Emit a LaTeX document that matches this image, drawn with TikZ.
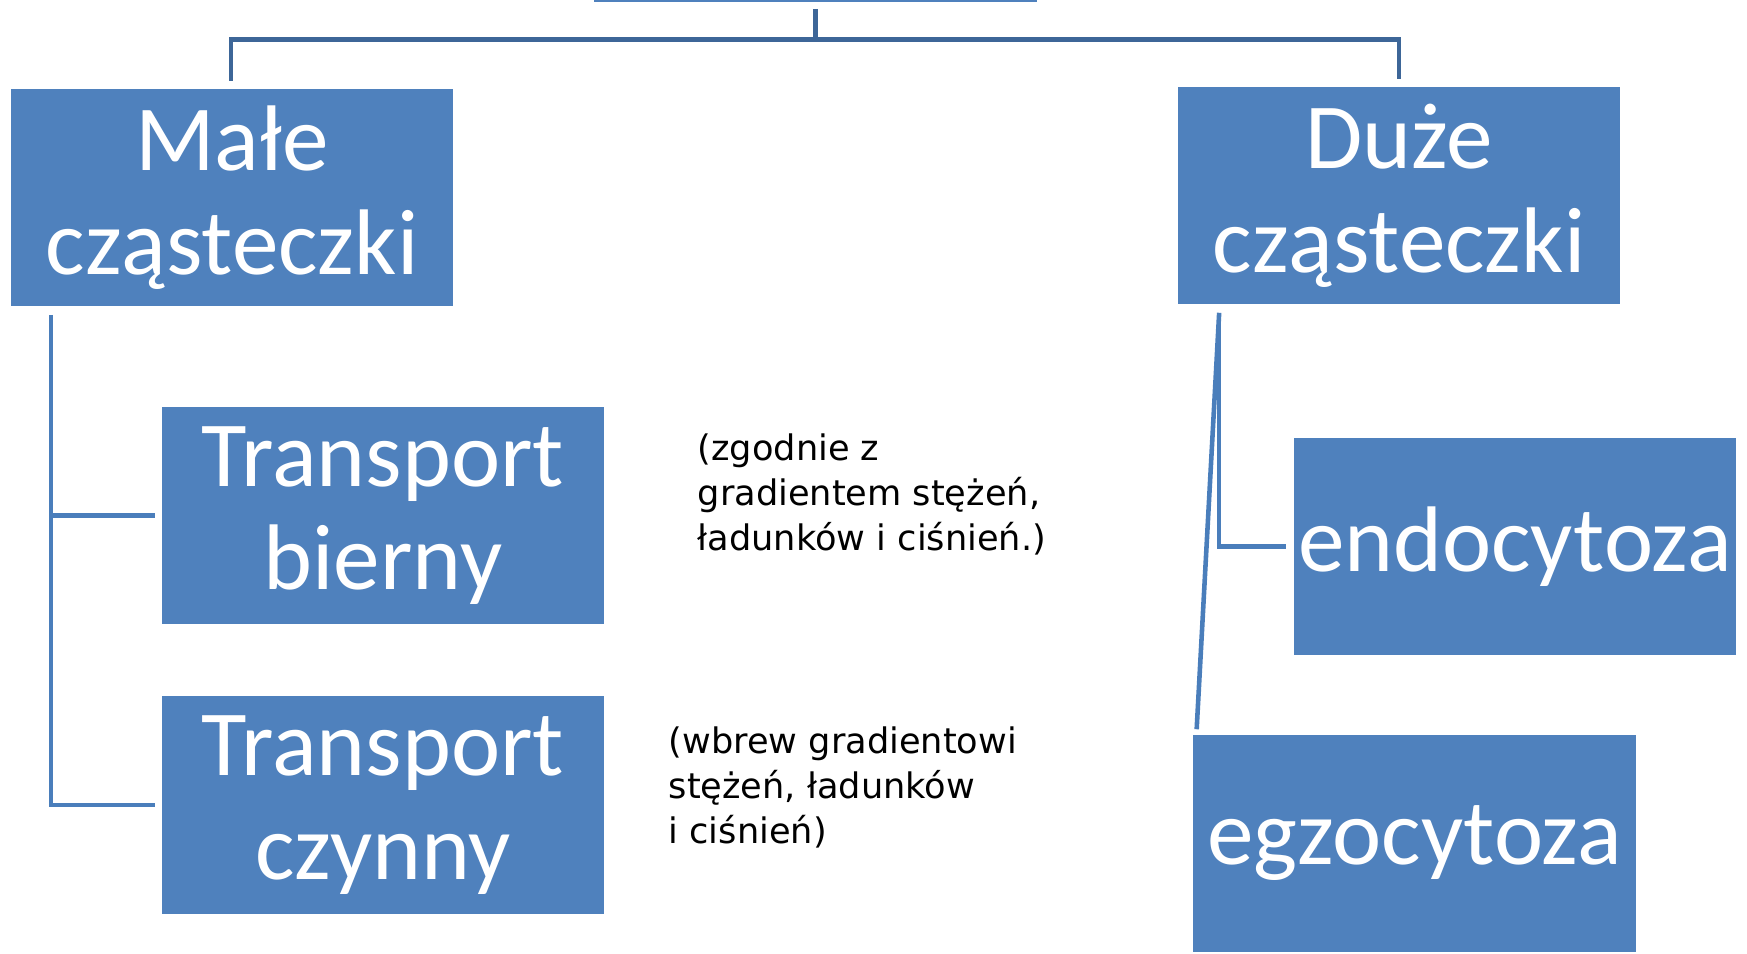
\documentclass[tikz,border=0pt]{standalone}
\usepackage{fontspec}
\setmainfont{Carlito}
\newfontfamily\notefont{DejaVu Sans}
\usepackage{tikz}
\usetikzlibrary{calc}
\definecolor{boxblue}{HTML}{4F81BD}
\definecolor{linkblue}{HTML}{4A7EBB}
\definecolor{linkdark}{HTML}{3D6698}

\begin{document}
\begin{tikzpicture}[
  x=0.01cm, y=-0.01cm,
  box/.style={fill=boxblue,text=white,align=center,inner sep=0pt,
              minimum width=4.42cm,minimum height=2.17cm,
              font=\fontsize{26.5}{29.5}\selectfont},
  note/.style={align=left,inner sep=0pt,anchor=north west,
               font=\notefont\fontsize{10}{12.8}\selectfont},
  link/.style={draw=linkblue,line width=1.3pt},
  toplink/.style={draw=linkdark,line width=1.4pt}
]
\useasboundingbox (0,0) rectangle (1747,953);
% ---- Boxes ----
\node[box] (top)    at (815.5,-106.5) {};
\node[box] (male)   at (232,197.5)  {Małe\\cząsteczki};
\node[box] (duze)   at (1399,195.5) {Duże\\cząsteczki};
\node[box] (bierny) at (383,515.5)  {Transport\\bierny};
\node[box] (czynny) at (383,805)    {Transport\\czynny};
\node[box] (endo)   at (1515,546.5) {endocytoza};
\node[box] (egzo)   at (1414.5,843.5) {egzocytoza};
% ---- Notes ----
\node[note] (zgodnie) at (697,433) {(zgodnie z\\gradientem stężeń,\\ładunków i ciśnień.)};
\node[note] (wbrew)   at (668,726) {(wbrew gradientowi\\stężeń, ładunków\\i ciśnień)};
% ---- Edges ----
\draw[toplink] ($(top.south)+(0,6)$) -- ++(0,31) -| ($(male.north)+(-1,-7)$);
\draw[toplink] ($(top.south)+(0,37)$) -| ($(duze.north)+(0,-7)$);
\coordinate (mtrunk) at ($(male.south west)+(41,8)$);
\draw[link] (mtrunk) |- ($(czynny.west)+(-6,0)$);
\draw[link] (mtrunk |- bierny.west) -- ($(bierny.west)+(-6,0)$);
\coordinate (dtrunk) at ($(duze.south west)+(42,8)$);
\draw[link] (dtrunk) |- ($(endo.west)+(-7,0)$);
\draw[link] (dtrunk) -- ($(egzo.north west)+(4,-5)$);
\end{tikzpicture}
\end{document}
